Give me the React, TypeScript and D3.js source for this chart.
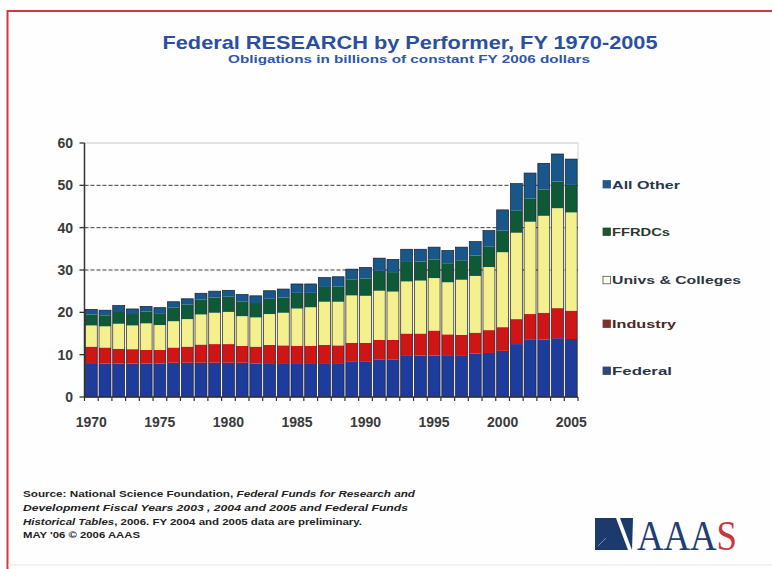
import React from "react";
import * as d3 from "d3";

const years = [1970, 1971, 1972, 1973, 1974, 1975, 1976, 1977, 1978, 1979, 1980, 1981, 1982, 1983, 1984, 1985, 1986, 1987, 1988, 1989, 1990, 1991, 1992, 1993, 1994, 1995, 1996, 1997, 1998, 1999, 2000, 2001, 2002, 2003, 2004, 2005];

const federal = [7.8, 7.9, 7.9, 7.9, 7.9, 7.9, 8.1, 8.1, 8.1, 8.1, 8.1, 8.1, 7.9, 8.0, 8.0, 8.0, 8.0, 8.0, 8.0, 8.3, 8.3, 8.9, 8.9, 9.7, 9.8, 9.8, 9.7, 9.7, 10.3, 10.4, 10.9, 12.5, 13.5, 13.6, 13.9, 13.7];
const industry = [4.1, 3.8, 3.5, 3.4, 3.2, 3.2, 3.6, 3.8, 4.3, 4.4, 4.4, 4.0, 4.0, 4.3, 4.2, 4.1, 4.1, 4.3, 4.2, 4.5, 4.5, 4.6, 4.6, 5.3, 5.2, 5.9, 5.1, 5.0, 4.9, 5.4, 5.6, 5.9, 6.1, 6.3, 7.1, 6.7];
const univs = [5.0, 5.0, 5.9, 5.6, 6.3, 5.9, 6.2, 6.5, 7.1, 7.4, 7.6, 7.0, 6.9, 7.3, 7.7, 8.8, 9.1, 10.2, 10.3, 11.2, 11.1, 11.6, 11.4, 12.3, 12.5, 12.4, 12.3, 13.0, 13.4, 14.9, 17.7, 20.4, 21.8, 22.9, 23.6, 23.2];
const ffrdcs = [2.6, 2.6, 3.0, 2.7, 2.8, 2.8, 3.2, 3.4, 3.5, 3.6, 3.6, 3.5, 3.4, 3.6, 3.6, 3.7, 3.4, 3.5, 3.6, 3.8, 4.1, 4.7, 4.6, 4.6, 4.5, 4.4, 4.5, 4.6, 4.8, 4.9, 5.1, 5.3, 5.5, 6.2, 6.3, 6.5];
const allOther = [1.2, 1.2, 1.3, 1.2, 1.2, 1.3, 1.4, 1.4, 1.5, 1.5, 1.5, 1.6, 1.7, 1.9, 2.0, 2.1, 2.1, 2.2, 2.3, 2.4, 2.6, 3.0, 3.0, 3.0, 2.9, 2.9, 3.0, 3.1, 3.3, 3.7, 4.9, 6.3, 6.0, 6.2, 6.5, 6.1];

const yTicks = [0, 10, 20, 30, 40, 50, 60];
const xLabelYears = [1970, 1975, 1980, 1985, 1990, 1995, 2000, 2005];

const seriesKeys = ["federal", "industry", "univs", "ffrdcs", "allOther"];
const seriesColors: Record<string, string> = {
  federal: "#1d3c9c",
  industry: "#cf1515",
  univs: "#f5f08e",
  ffrdcs: "#0f5a36",
  allOther: "#18578a",
};

const legendItems = [
  { label: "All Other", fill: "#275a82", stroke: "#275a82", width: 68, color: "#27384a" },
  { label: "FFRDCs", fill: "#1e5436", stroke: "#1e5436", width: 58, color: "#2a3a30" },
  { label: "Univs & Colleges", fill: "#fbfbf0", stroke: "#555", width: 129, color: "#2f3640" },
  { label: "Industry", fill: "#7e3030", stroke: "#7e3030", width: 64, color: "#4a2626" },
  { label: "Federal", fill: "#2b4a78", stroke: "#2b4a78", width: 60, color: "#2a3548" },
];

export default function App() {
  const table = years.map((yr, i) => ({
    year: yr,
    federal: federal[i],
    industry: industry[i],
    univs: univs[i],
    ffrdcs: ffrdcs[i],
    allOther: allOther[i],
  }));
  const stacked = d3.stack<any>().keys(seriesKeys)(table);

  const x = d3
    .scaleBand<number>()
    .domain(years)
    .range([84.5, 578])
    .paddingInner(0.13)
    .paddingOuter(0.06);
  const y = d3.scaleLinear().domain([0, 60]).range([397, 143]);
  const x0 = 84.5;
  const x1 = 578;

  const tickXs = d3.range(years.length + 1).map((i) => x0 + i * ((x1 - x0) / years.length));

  const font = "Arial, 'Liberation Sans', Helvetica, sans-serif";

  return (
    <svg
      width={772}
      height={569}
      style={{ position: "absolute", left: 0, top: 0, background: "#fefefe" }}
      fontFamily={font}
    >
      <rect x={0} y={0} width={772} height={569} fill="#fefefe" />
      {/* frame */}
      <line x1={7} y1={11} x2={772} y2={11} stroke="#cf3a3e" strokeWidth={2} />
      <line x1={7.5} y1={10} x2={7.5} y2={569} stroke="#cf3a3e" strokeWidth={2} />
      <line x1={8} y1={565} x2={772} y2={565} stroke="#e4e4e4" strokeWidth={1} />

      {/* title */}
      <text x={410} y={49} textAnchor="middle" fontSize={19} fontWeight="bold" fill="#2b4f9f" textLength={495} lengthAdjust="spacingAndGlyphs">
        Federal RESEARCH by Performer, FY 1970-2005
      </text>
      <text x={409} y={63} textAnchor="middle" fontSize={10.5} fontWeight="bold" fill="#2f56a8" textLength={362} lengthAdjust="spacingAndGlyphs">
        Obligations in billions of constant FY 2006 dollars
      </text>

      {/* grid */}
      {yTicks
        .filter((t) => t >= 30 && t < 60)
        .map((t) => (
          <line key={t} x1={x0} x2={x1} y1={y(t)} y2={y(t)} stroke="#3a3a3a" strokeWidth={1} strokeDasharray="4,2" />
        ))}
      <line x1={x0} x2={x1} y1={y(60)} y2={y(60)} stroke="#c4c4c4" strokeWidth={1.2} />
      <line x1={x1} x2={x1} y1={y(60)} y2={y(56)} stroke="#d4d4d4" strokeWidth={1} />

      {/* bars */}
      {stacked.map((s) => (
        <g key={s.key} fill={seriesColors[s.key]}>
          {s.map((d: any) => (
            <rect
              key={d.data.year}
              x={x(d.data.year)}
              width={x.bandwidth()}
              y={y(d[1])}
              height={y(d[0]) - y(d[1])}
            />
          ))}
        </g>
      ))}
      {table.map((d) => {
        const top = d.federal + d.industry + d.univs + d.ffrdcs + d.allOther;
        return (
          <rect
            key={"o" + d.year}
            x={x(d.year)}
            width={x.bandwidth()}
            y={y(top)}
            height={y(0) - y(top)}
            fill="none"
            stroke="#1b1b2a"
            strokeWidth={0.7}
          />
        );
      })}

      {/* axes */}
      <line x1={x0} x2={x0} y1={y(60)} y2={y(0)} stroke="#333" strokeWidth={1.5} />
      <line x1={x0} x2={x1} y1={y(0)} y2={y(0)} stroke="#333" strokeWidth={1.5} />
      {yTicks.map((t) => (
        <g key={t}>
          <line x1={x0 - 5} x2={x0} y1={y(t)} y2={y(t)} stroke="#333" strokeWidth={1.3} />
          <text x={73} y={y(t) + 5} textAnchor="end" fontSize={14} fontWeight="bold" fill="#3a3a3a">
            {t}
          </text>
        </g>
      ))}
      {tickXs.map((tx, i) => (
        <line key={i} x1={tx} x2={tx} y1={y(0)} y2={y(0) + 4} stroke="#333" strokeWidth={1.2} />
      ))}
      {xLabelYears.map((yr) => (
        <text
          key={yr}
          x={(x(yr) as number) + x.bandwidth() / 2}
          y={427}
          textAnchor="middle"
          fontSize={14}
          fontWeight="bold"
          fill="#3a3a3a"
        >
          {yr}
        </text>
      ))}

      {/* legend */}
      {legendItems.map((it, i) => {
        const cy = [184.5, 232, 280.3, 324, 371][i];
        return (
          <g key={it.label}>
            <rect x={603} y={cy - 4} width={7.5} height={7.5} fill={it.fill} stroke={it.stroke} strokeWidth={0.8} />
            <text x={612} y={cy + 4} fontSize={11.5} fontWeight="bold" fill={it.color} textLength={it.width} lengthAdjust="spacingAndGlyphs">
              {it.label}
            </text>
          </g>
        );
      })}

      {/* source */}
      <g fontSize={9.5} fill="#222" fontWeight="bold">
        <text x={23} y={497} textLength={392} lengthAdjust="spacingAndGlyphs">
          <tspan>Source: National Science Foundation, </tspan>
          <tspan fontStyle="italic">Federal Funds for Research and</tspan>
        </text>
        <text x={23} y={511} fontStyle="italic" textLength={385} lengthAdjust="spacingAndGlyphs">
          Development Fiscal Years 2003 , 2004 and 2005  and Federal Funds
        </text>
        <text x={23} y={525} textLength={339} lengthAdjust="spacingAndGlyphs">
          <tspan fontStyle="italic">Historical Tables</tspan>
          <tspan>, 2006. FY 2004 and 2005 data are preliminary.</tspan>
        </text>
        <text x={23} y={538} textLength={117} lengthAdjust="spacingAndGlyphs">
          MAY '06  © 2006 AAAS
        </text>
      </g>

      {/* AAAS logo */}
      <polygon points="595,518 616,518 628,550 595,550" fill="#1c3a6c" />
      <polygon points="620,518 633,518 632,550" fill="#1c3a6c" />
      <line x1={598} y1={546} x2={606} y2={538} stroke="#8aa0c0" strokeWidth={0.8} />
      <text
        transform="translate(637,550) scale(0.875,1)"
        x={0}
        y={0}
        fontFamily="'Liberation Serif', 'Times New Roman', serif"
        fontSize={42}
      >
        <tspan fill="#1f3e72">AAA</tspan>
        <tspan fill="#c8383a">S</tspan>
      </text>
    </svg>
  );
}
